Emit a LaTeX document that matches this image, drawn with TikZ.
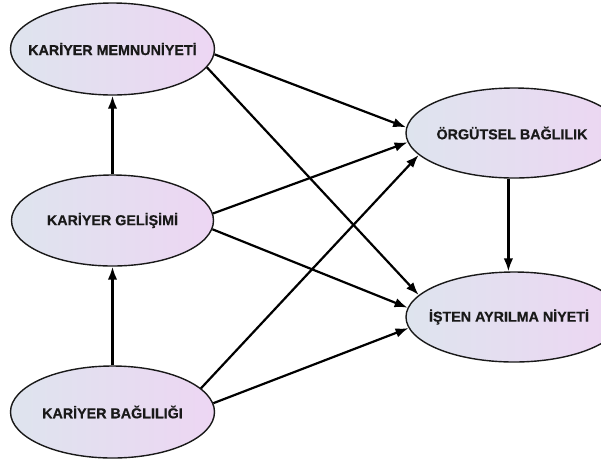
\documentclass[tikz,border=0pt]{standalone}
\usepackage{fontspec}
\setmainfont{Liberation Sans}
\newfontfamily\lblfont{Liberation Sans}[BoldFeatures={FakeBold=0.6}]
\usetikzlibrary{shapes.geometric,arrows.meta}
\definecolor{ellL}{RGB}{222,228,238}
\definecolor{ellR}{RGB}{237,214,243}
\definecolor{txt}{RGB}{25,25,25}
\tikzset{
  latent/.style={ellipse, draw=black!90, line width=1.4pt, inner sep=0pt,
    left color=ellL, right color=ellR, text=txt,
    font=\lblfont\fontsize{14.3}{16}\selectfont\bfseries},
  conn/.style={line width=2.2pt, -{Latex[length=13pt,width=9.5pt]}}
}
\begin{document}
\begin{tikzpicture}[x=1pt,y=-1pt]
\useasboundingbox (0,0) rectangle (601,464);
\node[latent, minimum width=204pt, minimum height=92pt] (km) at (112.5,49) {\makebox[0pt]{KARİYER MEMNUNİYETİ}};
\node[latent, minimum width=202pt, minimum height=91pt] (kg) at (112.5,220.5) {\makebox[0pt]{KARİYER GELİŞİMİ}};
\node[latent, minimum width=204pt, minimum height=92pt] (kb) at (112.5,412) {\makebox[0pt]{KARİYER BAĞLILIĞI}};
\node[latent, minimum width=216pt, minimum height=90pt] (ob) at (514,133) {\makebox[0pt]{\hspace*{-4pt}ÖRGÜTSEL BAĞLILIK}};
\node[latent, minimum width=216pt, minimum height=90pt] (ian) at (514,317) {\makebox[0pt]{\hspace*{-10pt}İŞTEN AYRILMA NİYETİ}};
\draw[conn] (kb.north) -- (kg.south);
\draw[conn] (kg.north) -- (km.south);
\draw[conn] (ob.-97) -- (ian.97);
\draw[conn] (km.-3) -- (ob.177);
\draw[conn] (km.-11) -- (ian.167);
\draw[conn] (kg.4) -- (ob.-175);
\draw[conn] (kg.-5) -- (ian.175);
\draw[conn] (kb.15) -- (ob.-167);
\draw[conn] (kb.5) -- (ian.-174);
\end{tikzpicture}
\end{document}
